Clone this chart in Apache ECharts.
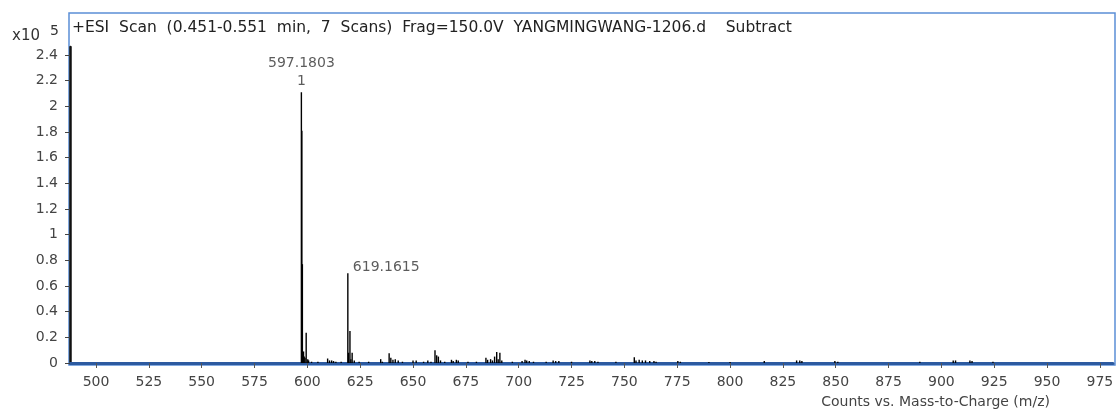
<!DOCTYPE html>
<html>
<head>
<meta charset="utf-8">
<script src="https://cdn.jsdelivr.net/npm/echarts@6/dist/echarts.min.js"></script>
<style>html,body{margin:0;padding:0;background:#fff}#c{width:1118px;height:410px}</style>
</head>
<body>
<div id="c"></div>
<script>
// m/z values and intensities (x10^5 counts)
const peakMz = [597.18,597.40,597.65,598.2,598.5,598.9,599.45,600.2,600.6,602,605,609.6,610.5,611.5,612.4,613.5,616,
  619.16,619.5,620.16,620.6,621.2,622.2,624.5,629,634.7,635.5,638.7,639.5,640.5,641.6,643,645,650,651.5,655,657,658.5,
  660.4,661.2,662,663,665,668.2,669,670.5,671.4,676,680,684.5,685.3,686.7,687.6,688.6,689.6,690.3,691.1,692,697,
  701.6,703,703.8,705,707,713,716.3,717.5,719,725,733.7,734.6,736,737.5,746,754.7,755.5,757,758.5,760,762,764,765,
  775.3,776.5,790,800,816.2,831.5,833,834,849.6,851,889.8,905.6,906.7,913.5,914.5,924.4];
const peakInt = [2.11,1.81,0.77,0.09,0.05,0.04,0.235,0.03,0.02,0.01,0.01,0.035,0.02,0.02,0.015,0.01,0.01,
  0.70,0.08,0.25,0.03,0.08,0.02,0.01,0.01,0.03,0.01,0.075,0.04,0.025,0.03,0.02,0.01,0.02,0.02,0.01,0.02,0.01,
  0.10,0.06,0.05,0.02,0.01,0.025,0.015,0.025,0.02,0.01,0.01,0.04,0.025,0.03,0.02,0.05,0.085,0.03,0.08,0.02,0.01,
  0.015,0.025,0.02,0.015,0.01,0.01,0.02,0.015,0.015,0.01,0.02,0.015,0.015,0.01,0.01,0.045,0.02,0.025,0.02,0.02,0.015,0.015,0.01,
  0.015,0.01,0.005,0.005,0.015,0.02,0.02,0.015,0.015,0.01,0.01,0.02,0.02,0.02,0.015,0.01];
const xTicks = [500,525,550,575,600,625,650,675,700,725,750,775,800,825,850,875,900,925,950,975];
const yTicks = [0,0.2,0.4,0.6,0.8,1,1.2,1.4,1.6,1.8,2,2.2,2.4];
const annMz = [597.18, 619.16];
const annInt = [2.11, 0.70];
const annText = ['597.1803\n1', '619.1615'];
const titleText = '+ESI  Scan  (0.451-0.551  min,  7  Scans)  Frag=150.0V  YANGMINGWANG-1206.d    Subtract';

const chart = echarts.init(document.getElementById('c'), null, {renderer:'canvas'});
const font = '"DejaVu Sans", Verdana, sans-serif';
const sticks = peakMz.map((m,i)=>[m, peakInt[i]]);
const anns = annMz.map((m,i)=>({value:[m, annInt[i]], label:{
  show:true, formatter:annText[i], position: i===0?'top':'right',
  offset: i===0?[0,3]:[0,-6], color:'#333', fontSize:14, fontFamily:font, lineHeight:18, align: i===0?'center':'left'}}));

chart.setOption({
  animation:false,
  backgroundColor:'#fff',
  grid:{left:70, right:5, top:47, bottom:47},
  xAxis:{type:'value', min:487.7, max:981.2,
    axisLine:{show:true, onZero:false, lineStyle:{color:'#2c5aa0', width:3}},
    axisTick:{show:true, customValues:xTicks, length:5, lineStyle:{color:'#555'}},
    axisLabel:{customValues:xTicks, color:'#444', fontSize:14, fontFamily:font, margin:12},
    splitLine:{show:false}},
  yAxis:{type:'value', min:0, max:2.462,
    axisLine:{show:true, lineStyle:{color:'#111', width:2.5}},
    axisTick:{show:true, customValues:yTicks, length:5, lineStyle:{color:'#444'}},
    axisLabel:{customValues:yTicks, color:'#444', fontSize:14, fontFamily:font, margin:12},
    splitLine:{show:false}},
  graphic:[
    {type:'rect', shape:{x:69, y:13, width:1046, height:352}, style:{fill:'none', stroke:'#5b8fd6', lineWidth:1.5}, z:-1},
    {type:'text', left:72, top:20, style:{text:titleText, font:'15.5px '+font, fill:'#222'}},
    {type:'text', left:12, top:29, style:{text:'x10', font:'15px '+font, fill:'#333'}},
    {type:'text', left:50, top:24, style:{text:'5', font:'14px '+font, fill:'#333'}},
    {type:'text', right:68, top:395, style:{text:'Counts vs. Mass-to-Charge (m/z)', font:'14px '+font, fill:'#444'}}
  ],
  series:[
    {type:'custom', data:sticks, clip:true,
      renderItem:(params, api)=>{
        const p0 = api.coord([api.value(0), 0]);
        const p1 = api.coord([api.value(0), api.value(1)]);
        return {type:'line', shape:{x1:p0[0], y1:p0[1], x2:p1[0], y2:Math.min(p1[1], p0[1]-1)},
          style:{stroke:'#000', lineWidth:1.4}};
      }},
    {type:'scatter', data:anns, symbolSize:0, silent:true}
  ]
});
</script>
</body>
</html>
